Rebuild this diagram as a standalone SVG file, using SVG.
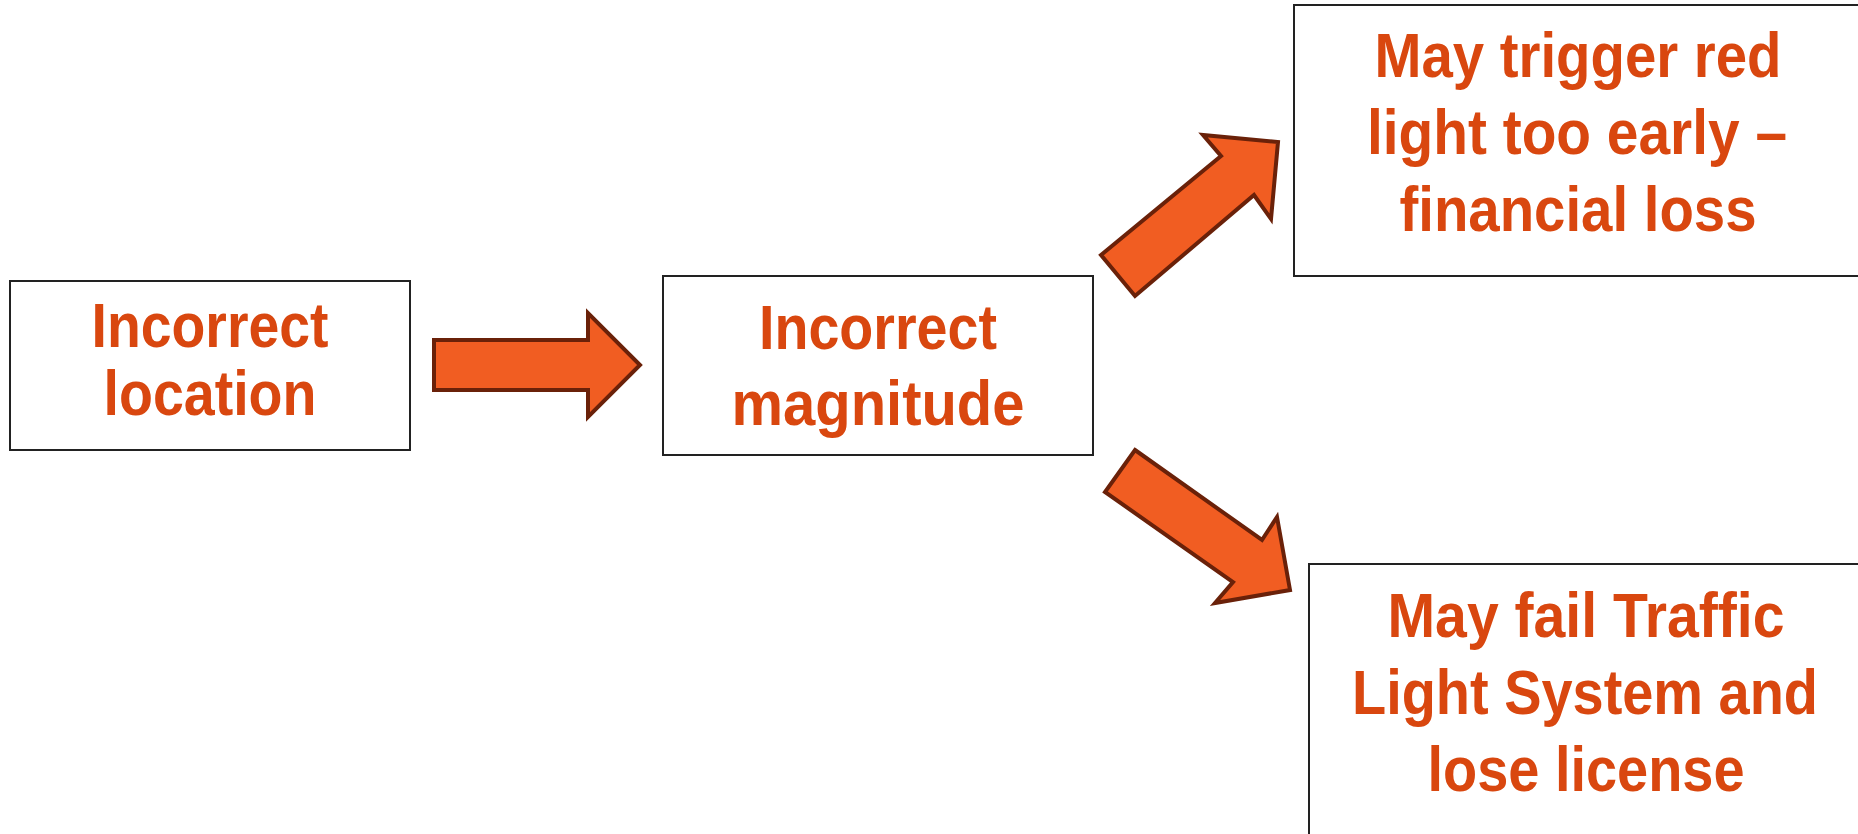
<svg xmlns="http://www.w3.org/2000/svg" width="1858" height="834" viewBox="0 0 1858 834">
<style>
.box{fill:#fff;stroke:#222;stroke-width:2}
.t{font-family:'Liberation Sans',Arial,sans-serif;font-weight:bold;font-size:63px;fill:#D9470F;text-anchor:middle}
.arr{fill:#F15D22;stroke:#6A2109;stroke-width:4;stroke-linejoin:miter}
</style>
<rect width="1858" height="834" fill="#fff"/>
<g id="node-location">
<rect class="box" x="10" y="281" width="400" height="169"/>
<text class="t" x="210" y="347" textLength="237" lengthAdjust="spacingAndGlyphs">Incorrect</text>
<text class="t" x="210" y="415" textLength="213" lengthAdjust="spacingAndGlyphs">location</text>
</g>
<g id="node-magnitude">
<rect class="box" x="663" y="276" width="430" height="179"/>
<text class="t" x="878" y="349" textLength="238" lengthAdjust="spacingAndGlyphs">Incorrect</text>
<text class="t" x="878" y="425" textLength="293" lengthAdjust="spacingAndGlyphs">magnitude</text>
</g>
<g id="node-redlight">
<rect class="box" x="1294" y="5" width="580" height="271"/>
<text class="t" x="1578" y="77" textLength="407" lengthAdjust="spacingAndGlyphs">May trigger red</text>
<text class="t" x="1577" y="154" textLength="420" lengthAdjust="spacingAndGlyphs">light too early –</text>
<text class="t" x="1578" y="231" textLength="357" lengthAdjust="spacingAndGlyphs">financial loss</text>
</g>
<g id="node-license">
<rect class="box" x="1309" y="564" width="580" height="290"/>
<text class="t" x="1586" y="637" textLength="397" lengthAdjust="spacingAndGlyphs">May fail Traffic</text>
<text class="t" x="1585" y="714" textLength="466" lengthAdjust="spacingAndGlyphs">Light System and</text>
<text class="t" x="1586" y="791" textLength="317" lengthAdjust="spacingAndGlyphs">lose license</text>
</g>
<g id="connectors">
<polygon class="arr" points="434,340 588,340 588,313 640,365 588,417 588,390 434,390"/>
<polygon class="arr" points="1101,255 1221,156 1203,135 1278,142 1271,219 1254,195 1135,296"/>
<polygon class="arr" points="1135,450 1262,540 1277,517 1290,590 1215,603 1233,582 1105,492"/>
</g>
</svg>
